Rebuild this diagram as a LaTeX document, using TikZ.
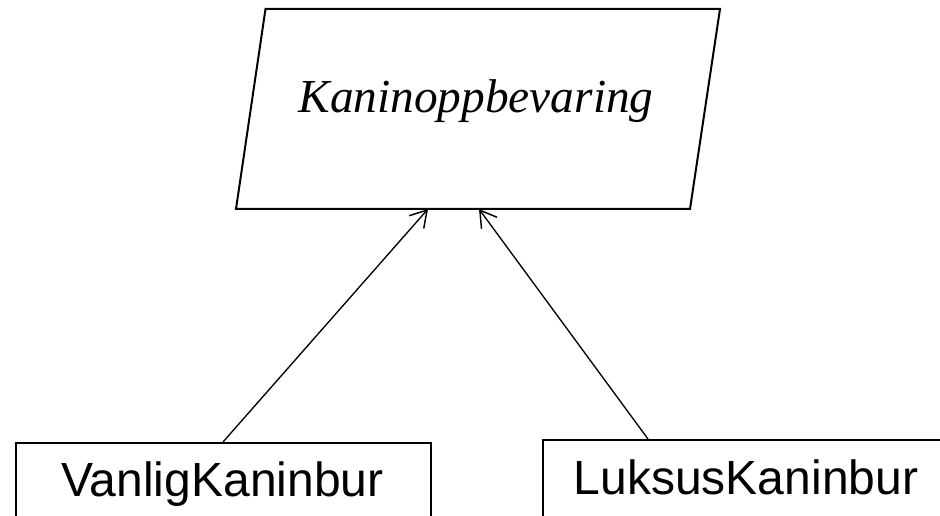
\documentclass[tikz,border=0pt]{standalone}
\usepackage{fontspec}
\setmainfont{Liberation Serif}
\setsansfont{Liberation Sans}
\usetikzlibrary{arrows.meta,calc}
\begin{document}
\begin{tikzpicture}[x=0.75pt,y=-0.75pt,
  outline/.style={draw=black,line width=1.5pt},
  classbox/.style={outline,rectangle,inner sep=0pt,anchor=north west},
  classname/.style={font=\sffamily\fontsize{36}{42}\selectfont,anchor=base,inner sep=0pt},
  abstractname/.style={font=\rmfamily\itshape\fontsize{35.5}{42}\selectfont,anchor=base,inner sep=0pt},
  inherit/.style={draw=black,line width=1pt,-{Straight Barb[length=12pt,width=14.5pt,line width=1.1pt]}},
  ]
\useasboundingbox (0,0) rectangle (940,516);

% abstract superclass, drawn as a slanted box
\coordinate (p1) at (265.5,9);
\coordinate (p2) at (720,9);
\coordinate (p3) at (690,209);
\coordinate (p4) at (236,209);
\draw[outline,line join=miter] (p1) -- (p2) -- (p3) -- (p4) -- cycle;
\node[abstractname] (abs) at (476,113) {Kaninoppbevaring};
\coordinate (tipL) at (428,209);
\coordinate (tipR) at (479,209);

% concrete subclasses
\node[classbox,minimum width=311.25pt,minimum height=56.2pt] (vk) at (15,442) {};
\node[classname] (vktext) at (222.5,497) {VanligKaninbur};
\node[classbox,minimum width=306pt,minimum height=57.7pt] (lk) at (542,439) {};
\node[classname] (lktext) at (746,495) {LuksusKaninbur};

% generalisation arrows
\draw[inherit] ($(vk.north west)+(208,0)$) -- (tipL);
\draw[inherit] ($(lk.north west)+(106,0)$) -- (tipR);
\end{tikzpicture}
\end{document}
